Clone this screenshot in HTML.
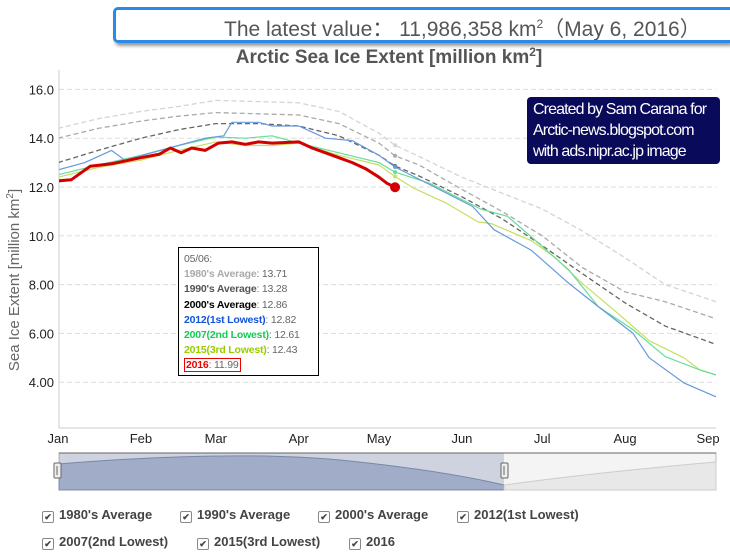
<!DOCTYPE html>
<html><head><meta charset="utf-8"><style>
body{margin:0;width:730px;height:555px;background:#fff;font-family:"Liberation Sans",sans-serif;overflow:hidden;position:relative}
.bwrap{position:absolute;left:0;top:0;width:730px;height:50px;overflow:hidden}
.banner{position:absolute;left:113px;top:7px;width:617px;height:36px;border:3px solid #2b8ae8;border-right:none;border-radius:5px 0 0 5px;box-shadow:2px 3px 3px #999;font-size:21px;color:#555;line-height:29px;padding-left:108px;box-sizing:border-box;white-space:nowrap;overflow:hidden}
.tt{position:absolute;left:178px;top:247px;width:141px;height:129px;border:1px solid #000;background:#fff;font-size:10.5px;color:#666;line-height:15.2px;padding:4px 0 0 5px;box-sizing:border-box;letter-spacing:-0.2px}
.tt b{font-weight:bold}
.anno{position:absolute;left:527px;top:97px;width:193px;height:67px;background:#0a0a5a;border-radius:4px;color:#fff;font-size:16px;line-height:21px;padding:2px 6px;box-sizing:border-box;white-space:nowrap;letter-spacing:-0.9px}
.leg{position:absolute;font-size:13px;font-weight:bold;color:#444}
.leg span{position:absolute;white-space:nowrap}
.cb{display:inline-block;width:10px;height:10px;border:1px solid #888;border-radius:2px;margin-right:5px;font-size:9px;line-height:10px;text-align:center;vertical-align:-1px;font-style:normal}
</style></head><body>
<div class="bwrap"><div class="banner">The latest value： 11,986,358 km<sup style="font-size:12px">2</sup>（May 6, 2016）</div></div>
<svg width="730" height="555" style="position:absolute;left:0;top:0" id="chart"></svg>
<div class="anno">Created by Sam Carana for<br>Arctic-news.blogspot.com<br>with ads.nipr.ac.jp image</div>
<div class="tt">05/06:<br>
<b style="color:#aaa">1980's Average</b>: 13.71<br>
<b style="color:#555">1990's Average</b>: 13.28<br>
<b style="color:#000">2000's Average</b>: 12.86<br>
<b style="color:#1155dd">2012(1st Lowest)</b>: 12.82<br>
<b style="color:#11cc55">2007(2nd Lowest)</b>: 12.61<br>
<b style="color:#99cc00">2015(3rd Lowest)</b>: 12.43<br>
<span style="border:1px solid #e00;padding:0 1px"><b style="color:#e00">2016</b>: 11.99</span></div>
<div class="leg">
<span style="left:42px;top:507px"><i class="cb">✔</i>1980's Average</span>
<span style="left:180px;top:507px"><i class="cb">✔</i>1990's Average</span>
<span style="left:318px;top:507px"><i class="cb">✔</i>2000's Average</span>
<span style="left:457px;top:507px"><i class="cb">✔</i>2012(1st Lowest)</span>
<span style="left:42px;top:534px"><i class="cb">✔</i>2007(2nd Lowest)</span>
<span style="left:197px;top:534px"><i class="cb">✔</i>2015(3rd Lowest)</span>
<span style="left:349px;top:534px"><i class="cb">✔</i>2016</span>
</div>
<script>
const monthLabels=["Jan","Feb","Mar","Apr","May","Jun","Jul","Aug","Sep"];
const monthDays=[0,31,59,90,120,151,181,212,243];
const yTicks=[4,6,8,10,12,14,16];
const yTickLabels=["4.00","6.00","8.00","10.0","12.0","14.0","16.0"];
const d1980=[0,15,31,45,59,75,90,105,120,126,135,151,166,181,196,212,227,246];
const v1980=[14.4,14.8,15.1,15.3,15.55,15.5,15.45,15.1,14.2,13.71,13.25,12.4,11.75,11.1,10.2,9.1,8.0,7.3];
const d1990=[0,15,31,45,59,75,90,105,120,126,135,151,166,181,196,212,227,246];
const v1990=[14.0,14.4,14.7,14.9,15.05,15.0,14.95,14.6,13.8,13.28,12.9,11.9,11.0,10.0,8.7,7.7,7.3,6.6];
const d2000=[0,15,31,45,59,75,90,105,120,126,135,151,166,181,196,212,227,246];
const v2000=[13.0,13.5,14.0,14.35,14.6,14.6,14.5,14.1,13.3,12.86,12.45,11.6,10.7,9.6,8.45,7.25,6.3,5.55];
const d2012=[0,10,20,25,35,45,55,62,65,75,80,90,100,110,120,126,139,155,163,177,191,202,215,221,234,246];
const v2012=[12.7,13.0,13.5,13.1,13.4,13.7,14.0,14.1,14.65,14.65,14.5,14.5,14.0,13.9,13.3,12.82,12.1,11.2,10.25,9.4,8.05,7.1,6.0,5.0,3.97,3.4];
const d2007=[0,15,31,45,59,70,80,90,105,120,126,139,158,168,177,191,202,215,227,240,246];
const v2007=[12.5,12.9,13.3,13.7,14.05,14.0,14.1,13.8,13.4,13.0,12.61,12.15,11.1,10.8,9.95,8.6,7.1,6.15,5.05,4.5,4.3];
const d2015=[0,15,31,45,59,70,80,90,105,120,126,133,145,157,162,177,186,196,209,221,234,240,246];
const v2015=[12.4,12.8,13.1,13.5,13.85,13.7,13.7,13.8,13.3,12.9,12.43,11.95,11.35,10.57,10.5,9.8,9.1,8.05,6.85,5.7,5.0,4.5,4.3];
const d2016=[0,5,12,20,31,38,42,46,50,55,60,65,70,75,80,90,95,100,105,110,115,120,123,126];
const v2016=[12.25,12.3,12.85,12.95,13.2,13.35,13.6,13.4,13.6,13.5,13.8,13.85,13.75,13.85,13.8,13.85,13.6,13.4,13.2,13.0,12.75,12.4,12.15,11.99];
const NS="http://www.w3.org/2000/svg",svg=document.getElementById('chart');
const X0=58,PXD=2.675,Y0=187,YS=24.4;
const xs=d=>X0+d*PXD, ys=v=>Y0-(v-12)*YS;
function mk(t,a,p){const e=document.createElementNS(NS,t);for(const k in a)e.setAttribute(k,a[k]);(p||svg).appendChild(e);return e;}
const ti=mk('text',{x:389,y:63,'text-anchor':'middle','font-size':19,'font-weight':'bold',fill:'#555'});
ti.innerHTML='Arctic Sea Ice Extent [million km<tspan dy="-7" font-size="12">2</tspan><tspan dy="7">]</tspan>';

yTicks.forEach((t,i)=>{const y=ys(t);
const g=mk('line',{x1:59,x2:716,y1:y,y2:y,stroke:'#ddd','stroke-dasharray':'5,3'});

const l=mk('text',{x:54,y:y+5,'text-anchor':'end','font-size':13,fill:'#222'});l.textContent=yTickLabels[i];
});
mk('line',{x1:59,x2:59,y1:70,y2:428,stroke:'#ccc'});
mk('line',{x1:59,x2:716,y1:428,y2:428,stroke:'#ccc'});
monthLabels.forEach((m,i)=>{const l=mk('text',{x:xs(monthDays[i]),y:443,'text-anchor':'middle','font-size':13,fill:'#222'});l.textContent=m;
});
const yt=mk('text',{x:19,y:280,'text-anchor':'middle','font-size':15,fill:'#666',transform:'rotate(-90 19 280)'});
yt.innerHTML='Sea Ice Extent [million km<tspan dy="-6" font-size="10">2</tspan><tspan dy="6">]</tspan>';

const clip=mk('clipPath',{id:'pc'});mk('rect',{x:59,y:68,width:657,height:360},clip);
const series=[[d1980,v1980,'#d4d4d4',1.3,'5,3','series-1980s'],[d1990,v1990,'#aaa',1.3,'5,3','series-1990s'],[d2000,v2000,'#666',1.3,'5,3','series-2000s'],
[d2015,v2015,'#c4e060',1.2,'','series-2015'],[d2007,v2007,'#66dd99',1.2,'','series-2007'],[d2012,v2012,'#6699dd',1.2,'','series-2012'],[d2016,v2016,'#d40000',3,'','series-2016']];
series.forEach(s=>{const p=mk('path',{d:s[0].map((d,i)=>(i?'L':'M')+xs(d).toFixed(1)+','+ys(s[1][i]).toFixed(1)).join(''),fill:'none',stroke:s[2],'stroke-width':s[3],'stroke-dasharray':s[4],'stroke-linejoin':'round','clip-path':'url(#pc)'});

const k=s[0].indexOf(126);const isR=s[5]=='series-2016';
const c=mk('circle',{cx:xs(126),cy:ys(s[1][k]),r:isR?5:2,fill:isR?'#d40000':s[2]});
});
const nav=mk('g',{});
mk('rect',{x:59,y:453,width:657,height:37,fill:'#f4f4f4',stroke:'#bbb'},nav);
mk('path',{d:'M59,490 L59,464 Q230,450 340,460 Q440,470 504,485 L504,490 Z',fill:'#b8c2d6',stroke:'#8090aa'},nav);
mk('path',{d:'M504,485 Q600,472 716,462 L716,490 L504,490Z',fill:'#e8e8e8',stroke:'#ccc'},nav);
mk('rect',{x:59,y:453,width:445,height:37,fill:'rgba(90,110,160,0.25)'},nav);
mk('line',{x1:59,x2:716,y1:453,y2:453,stroke:'#666'},nav);
[57,504].forEach(x=>{mk('rect',{x:x-3,y:463,width:7,height:15,fill:'#eee',stroke:'#666',rx:1},nav);mk('line',{x1:x,x2:x,y1:466,y2:475,stroke:'#666'},nav);});
</script>
</body></html>
